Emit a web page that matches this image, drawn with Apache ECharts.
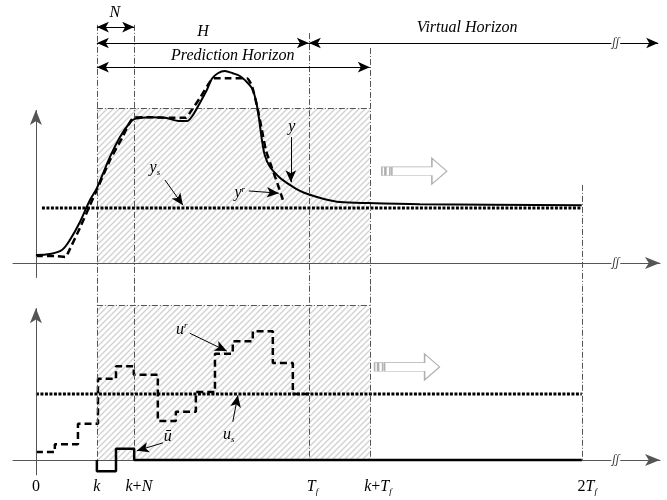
<!DOCTYPE html>
<html>
<head>
<meta charset="utf-8">
<script src="https://cdn.jsdelivr.net/npm/echarts@6/dist/echarts.min.js"></script>
<style>
  html, body { margin: 0; background: #fff; }
  #chart { width: 667px; height: 500px; }
</style>
</head>
<body>
<div id="chart"></div>
<script>
// key instants on the time axis
const k = 3.35, kN = 5.4, Tf = 15, kTf = 18.35, Tf2 = 30;
const ysLevel = 1.0, usLevel = 1.0;

// output y (solid)
const yT = [0, 0.77, 1.43, 1.87, 2.42, 2.97, 3.35, 4.07, 4.62, 5.16, 5.44, 6.26, 7.09, 7.91, 8.30, 8.63, 9.01, 9.40, 9.67, 10.0, 10.38, 10.82, 11.21, 11.59, 11.87, 12.09, 12.25, 12.42, 12.58, 12.86, 13.41, 13.96, 14.51, 15.05, 15.88, 16.70, 18.24, 21.1, 30];
const yV = [0.145, 0.164, 0.236, 0.42, 0.745, 1.145, 1.36, 1.93, 2.29, 2.55, 2.62, 2.65, 2.64, 2.58, 2.58, 2.69, 2.91, 3.15, 3.35, 3.45, 3.49, 3.45, 3.40, 3.29, 3.18, 2.96, 2.65, 2.24, 1.96, 1.75, 1.55, 1.42, 1.31, 1.24, 1.16, 1.11, 1.09, 1.07, 1.05];
// reference y^r (dashed)
const yrT = [0, 1.04, 1.65, 1.76, 2.42, 2.97, 3.35, 4.07, 4.73, 5.38, 6.26, 7.36, 8.24, 8.46, 9.01, 9.56, 9.78, 10.66, 11.59, 11.87, 12.2, 12.42, 12.64, 12.97, 13.3, 13.57];
const yrV = [0.127, 0.127, 0.11, 0.18, 0.64, 1.05, 1.33, 1.87, 2.27, 2.64, 2.65, 2.64, 2.64, 2.73, 3.0, 3.29, 3.36, 3.36, 3.36, 3.22, 2.78, 2.42, 2.05, 1.73, 1.42, 1.15];
// input u^r (dashed steps)
const urT = [0, 1.04, 2.31, 3.41, 4.40, 5.38, 6.70, 7.69, 8.79, 9.84, 10.82, 11.92, 13.02, 14.12, 15];
const urV = [0.12, 0.24, 0.55, 1.23, 1.42, 1.29, 0.59, 0.73, 1.03, 1.61, 1.80, 1.95, 1.47, 1.0, 1.0];
// u bar (solid steps)
const ubT = [3.35, 3.35, 4.40, 5.40, 30];
const ubV = [0, -0.17, 0.17, 0, 0];

// tick labels under the lower axis
const tickPos = [0, k, 5.66, 15.2, 18.8, 30.3];
const tickLabels = ['{n|0}', '{i|k}', '{i|k}{n|+}{i|N}', '{i|T}{sub|f}', '{i|k}{n|+}{i|T}{sub|f}', '{n|2}{i|T}{sub|f}'];

const zip = (a, b) => a.map((t, i) => [t, b[i]]);

function hatch() {
  const c = document.createElement('canvas');
  c.width = 6; c.height = 6;
  const g = c.getContext('2d');
  g.strokeStyle = '#d2d2d2';
  g.lineWidth = 1.4;
  g.beginPath();
  g.moveTo(-1, 7); g.lineTo(7, -1);
  g.moveTo(-1, 1); g.lineTo(1, -1);
  g.moveTo(5, 7); g.lineTo(7, 5);
  g.stroke();
  return c;
}
const hatchFill = { image: hatch(), repeat: 'repeat' };

const serif = 'Liberation Serif';
const rich = {
  i: { fontFamily: serif, fontStyle: 'italic', fontSize: 16, color: '#000' },
  n: { fontFamily: serif, fontSize: 16, color: '#000' },
  sub: { fontFamily: serif, fontStyle: 'italic', fontSize: 9, color: '#000', padding: [10, 0, 0, 0] },
  sup: { fontFamily: serif, fontStyle: 'italic', fontSize: 9, color: '#000', padding: [0, 0, 8, 0] },
  brk: { fontFamily: serif, fontStyle: 'italic', fontSize: 12, color: '#333', backgroundColor: '#fff', padding: [0, 1] }
};

const dd = { color: '#555', width: 1, type: [6, 2, 1, 2] };
const ax = { color: '#555', width: 1, type: 'solid' };
const ar = { color: '#000', width: 1, type: 'solid' };

function seg(a, b, style, s0, s1, size) {
  const sz = size || [8, 12];
  return [
    { coord: a, symbol: s0 || 'none', symbolSize: sz, lineStyle: style },
    { coord: b, symbol: s1 || 'none', symbolSize: sz }
  ];
}
function txt(c, f, extra) {
  return Object.assign({ coord: c, symbol: 'circle', symbolSize: 0, label: { show: true, position: 'inside', formatter: f, rich: rich } }, extra || {});
}
const hollowArrow = 'path://M0 9h3v8h-3z M4 9h4v8h-4z M10 9h40v-8l15 12l-15 12v-8h-40z';
function bigArrow(c) {
  return { coord: c, symbol: hollowArrow, symbolSize: [65, 26], itemStyle: { color: '#fff', borderColor: '#b0b0b0', borderWidth: 1 }, label: { show: false } };
}

const chart = echarts.init(document.getElementById('chart'));
chart.setOption({
  animation: false,
  grid: [
    { left: 13, right: 7, top: 10, height: 275 },
    { left: 13, right: 7, top: 285, height: 215 }
  ],
  xAxis: [0, 1].map(i => ({
    type: 'value', gridIndex: i, min: -1.26, max: 34.3,
    axisLine: { show: true, onZero: true, symbol: ['none', 'arrow'], symbolSize: [9, 15], lineStyle: { color: '#555', width: 1 } },
    axisTick: { show: false }, axisLabel: { show: false }, splitLine: { show: false }
  })),
  yAxis: [
    { type: 'value', gridIndex: 0, min: -0.4, max: 4.6, show: false },
    { type: 'value', gridIndex: 1, min: -0.606, max: 2.6515, show: false }
  ],
  series: [
    {
      name: 'y', type: 'line', xAxisIndex: 0, yAxisIndex: 0, data: zip(yT, yV),
      smooth: 0.3, showSymbol: false, lineStyle: { color: '#000', width: 2 }, z: 5
    },
    {
      name: 'yr', type: 'line', xAxisIndex: 0, yAxisIndex: 0, data: zip(yrT, yrV),
      smooth: 0.2, showSymbol: false, lineStyle: { color: '#000', width: 2.5, type: [7, 4] }, z: 4
    },
    {
      name: 'ys', type: 'line', xAxisIndex: 0, yAxisIndex: 0, data: [[0.33, ysLevel], [Tf2, ysLevel]],
      showSymbol: false, lineStyle: { color: '#000', width: 3, type: [3, 1.5] }, z: 3,
      markArea: { silent: true, itemStyle: { color: hatchFill }, data: [[{ coord: [k, 0] }, { coord: [kTf, 2.82] }]] },
      markLine: {
        silent: true, label: { show: false },
        data: [
          seg([k, 4.33], [k, -0.39], dd),
          seg([kN, 4.33], [kN, -0.39], dd),
          seg([Tf, 4.18], [Tf, -0.39], dd),
          seg([kTf, 3.91], [kTf, -0.39], dd),
          seg([Tf2, 1.42], [Tf2, -0.39], dd),
          seg([k, 2.82], [kTf, 2.82], dd),
          seg([0, -0.27], [0, 2.78], ax, 'none', 'arrow', [9, 15]),
          seg([k, 4.29], [kN, 4.29], ar, 'arrow', 'arrow'),
          seg([k, 4.0], [Tf, 4.0], ar, 'arrow', 'arrow'),
          seg([Tf, 4.0], [34.2, 4.0], ar, 'arrow', 'arrow'),
          seg([k, 3.56], [kTf, 3.56], ar, 'arrow', 'arrow'),
          seg([7.09, 1.51], [8.08, 1.05], ar, 'none', 'arrow', [8, 12]),
          seg([14.01, 2.29], [14.01, 1.47], ar, 'none', 'arrow', [8, 12]),
          seg([11.7, 1.31], [13.35, 1.27], ar, 'none', 'arrow', [8, 12])
        ]
      },
      markPoint: {
        silent: true,
        data: [
          txt([4.34, 4.55], '{i|N}'),
          txt([9.18, 4.2], '{i|H}'),
          txt([23.7, 4.27], '{i|Virtual Horizon}'),
          txt([10.82, 3.77], '{i|Prediction Horizon}'),
          txt([6.54, 1.73], '{i|y}{sub|s}'),
          txt([14.07, 2.47], '{i|y}'),
          txt([11.2, 1.27], '{i|y}{sup|r}'),
          txt([31.87, 4.0], '{brk|ʃʃ}'),
          txt([31.87, 0], '{brk|ʃʃ}'),
          bigArrow([20.8, 1.67])
        ]
      }
    },
    {
      name: 'ur', type: 'line', xAxisIndex: 1, yAxisIndex: 1, data: zip(urT, urV), step: 'end',
      showSymbol: false, lineStyle: { color: '#000', width: 2.5, type: [7, 4] }, z: 4
    },
    {
      name: 'ubar', type: 'line', xAxisIndex: 1, yAxisIndex: 1, data: zip(ubT, ubV), step: 'end',
      showSymbol: false, lineStyle: { color: '#000', width: 2.5 }, z: 5
    },
    {
      name: 'us', type: 'line', xAxisIndex: 1, yAxisIndex: 1, data: [[0, usLevel], [Tf2, usLevel]],
      showSymbol: false, lineStyle: { color: '#000', width: 3, type: [3, 1.5] }, z: 3,
      markArea: { silent: true, itemStyle: { color: hatchFill }, data: [[{ coord: [k, 0] }, { coord: [kTf, 2.35] }]] },
      markLine: {
        silent: true, label: { show: false },
        data: [
          seg([k, 2.64], [k, -0.17], dd),
          seg([kN, 2.64], [kN, 0], dd),
          seg([Tf, 2.64], [Tf, 0], dd),
          seg([kTf, 2.64], [kTf, 0], dd),
          seg([Tf2, 2.64], [Tf2, 0], dd),
          seg([k, 2.35], [kTf, 2.35], dd),
          seg([0, -0.23], [0, 2.30], ax, 'none', 'arrow', [9, 15]),
          seg([8.46, 1.92], [10.49, 1.65], ar, 'none', 'arrow', [8, 12]),
          seg([10.82, 0.58], [11.1, 0.98], ar, 'none', 'arrow', [8, 12]),
          seg([6.98, 0.26], [5.55, 0.14], ar, 'none', 'arrow', [8, 12])
        ]
      },
      markPoint: {
        silent: true,
        data: [
          txt([8.02, 1.97], '{i|u}{sup|r}'),
          txt([10.6, 0.38], '{i|u}{sub|s}'),
          txt([7.25, 0.35], '{i|ū}'),
          txt([31.87, 0], '{brk|ʃʃ}'),
          bigArrow([20.4, 1.41])
        ].concat(tickPos.map((t, i) => txt([t, -0.41], tickLabels[i])))
      }
    }
  ]
});
</script>
</body>
</html>
